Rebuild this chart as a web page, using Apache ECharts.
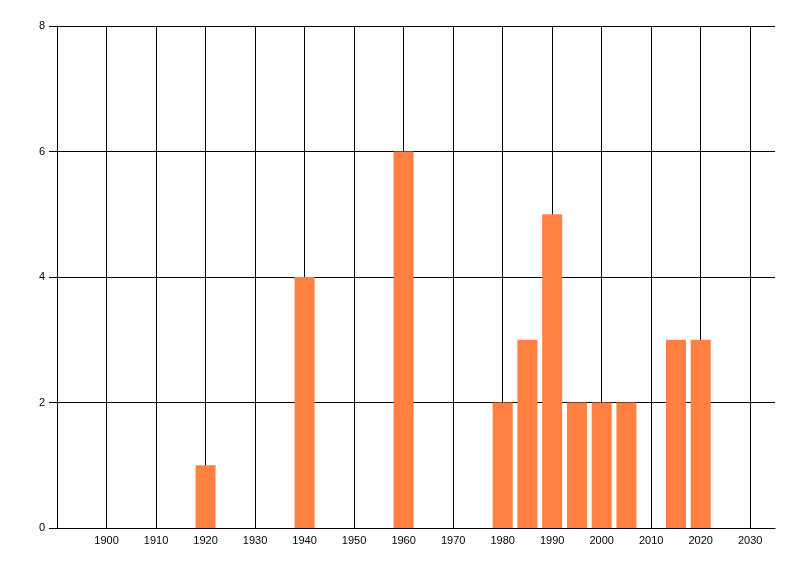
<!DOCTYPE html>
<html>
<head>
<meta charset="utf-8">
<script src="https://cdn.jsdelivr.net/npm/echarts@6/dist/echarts.min.js"></script>
<style>html,body{margin:0;padding:0;background:#fff;}#c{width:800px;height:576px;}</style>
</head>
<body>
<div id="c"></div>
<script>
var years = [1920, 1940, 1960, 1980, 1985, 1990, 1995, 2000, 2005, 2015, 2020];
var counts = [1, 4, 6, 2, 3, 5, 2, 2, 2, 3, 3];
var yTicks = [0, 2, 4, 6, 8];

var data = years.map(function (y, i) { return [y, counts[i]]; });
var chart = echarts.init(document.getElementById('c'));
chart.setOption({
  animation: false,
  backgroundColor: '#fff',
  grid: { left: 57, top: 26, width: 718, height: 502, containLabel: false },
  xAxis: {
    type: 'value', min: 1890, max: 2035, interval: 10,
    axisLine: { show: true, lineStyle: { color: '#000', width: 1 } },
    axisTick: { show: false },
    splitLine: { show: true, showMaxLine: false, lineStyle: { color: '#000', width: 1 } },
    axisLabel: {
      color: '#000', fontFamily: 'Liberation Sans, Arial, sans-serif', fontSize: 11, margin: 7,
      showMinLabel: false, showMaxLabel: false,
      formatter: function (v) { return (v % 10 === 0 && v > 1890) ? String(v) : ''; }
    }
  },
  yAxis: {
    type: 'value', min: yTicks[0], max: yTicks[yTicks.length - 1], interval: 2,
    axisLine: { show: true, lineStyle: { color: '#000', width: 1 } },
    axisTick: { show: true, length: 8, lineStyle: { color: '#000' } },
    splitLine: { show: true, lineStyle: { color: '#000', width: 1 } },
    axisLabel: { color: '#000', fontFamily: 'Liberation Sans, Arial, sans-serif', fontSize: 11, margin: 12 }
  },
  series: [{
    type: 'bar',
    data: data,
    barWidth: 20,
    itemStyle: { color: '#FF8040' },
    z: 3
  }]
});
</script>
</body>
</html>
